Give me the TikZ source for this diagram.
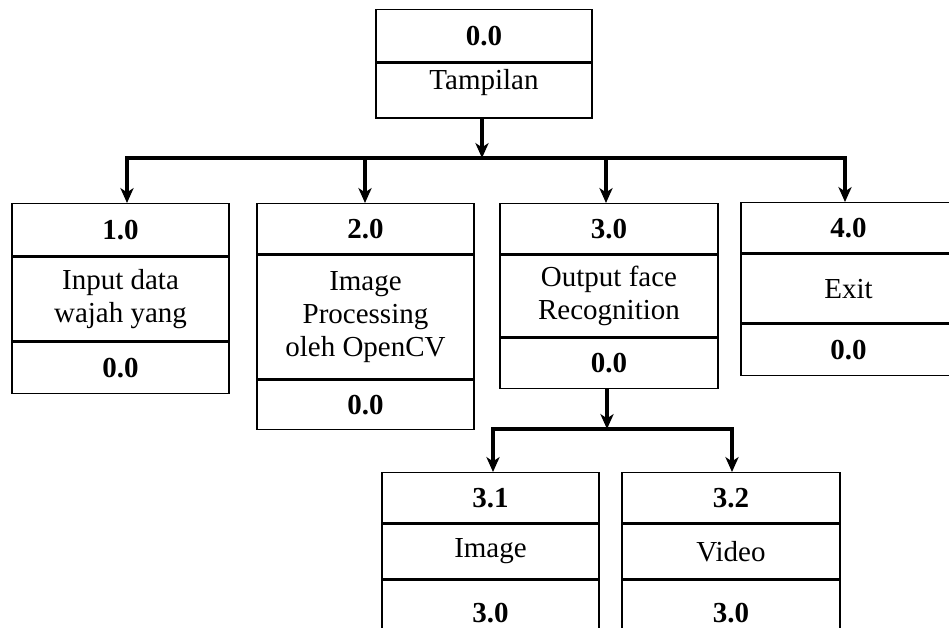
\documentclass[tikz,border=0pt]{standalone}
\usepackage{fontspec}
\setmainfont{Liberation Serif}
\usetikzlibrary{arrows.meta,positioning,calc}

\begin{document}
\begin{tikzpicture}[
  x=0.02cm, y=-0.02cm,
  cell/.style={draw, line width=0.8pt, anchor=north, inner sep=0pt,
    align=center, font=\fontsize{16.5}{19}\selectfont},
  numcell/.style={cell, font=\fontsize{16.5}{19}\selectfont\bfseries},
  arrow/.style={-{Stealth[length=8.5pt, width=7.5pt, inset=2.5pt]}, line width=1.8pt},
  bus/.style={line width=1.8pt, line cap=rect}
]
\clip (0,0) rectangle (949,628);

% Level 0
\node[numcell, minimum width=4.32cm, minimum height=1.04cm] (p0n) at (484,9) {0.0};
\node[cell, minimum width=4.32cm, minimum height=1.10cm, text depth=13pt] (p0t) at (p0n.south) {Tampilan};

% Level 1
\node[numcell, minimum width=4.34cm, minimum height=1.04cm] (p1n) at (120.5,203) {1.0};
\node[cell, minimum width=4.34cm, minimum height=1.68cm] (p1t) at (p1n.south) {Input data\\wajah yang};
\node[numcell, minimum width=4.34cm, minimum height=1.02cm] (p1f) at (p1t.south) {0.0};

\node[numcell, minimum width=4.34cm, minimum height=1.00cm] (p2n) at (365.5,203) {2.0};
\node[cell, minimum width=4.34cm, minimum height=2.48cm] (p2t) at (p2n.south) {Image\\Processing\\oleh OpenCV};
\node[numcell, minimum width=4.34cm, minimum height=0.98cm] (p2f) at (p2t.south) {0.0};

\node[numcell, minimum width=4.36cm, minimum height=1.00cm] (p3n) at (609,203) {3.0};
\node[cell, minimum width=4.36cm, minimum height=1.64cm] (p3t) at (p3n.south) {Output face\\Recognition};
\node[numcell, minimum width=4.36cm, minimum height=1.00cm] (p3f) at (p3t.south) {0.0};

\node[numcell, minimum width=4.30cm, minimum height=1.00cm] (p4n) at (848.5,202) {4.0};
\node[cell, minimum width=4.30cm, minimum height=1.38cm] (p4t) at (p4n.south) {Exit};
\node[numcell, minimum width=4.30cm, minimum height=1.02cm] (p4f) at (p4t.south) {0.0};

% Level 2
\node[numcell, minimum width=4.34cm, minimum height=1.00cm] (p31n) at (490.5,472) {3.1};
\node[cell, minimum width=4.34cm, minimum height=1.10cm] (p31t) at (p31n.south) {Image};
\node[numcell, minimum width=4.34cm, minimum height=1.30cm] (p31f) at (p31t.south) {3.0};

\node[numcell, minimum width=4.36cm, minimum height=1.00cm] (p32n) at (731,472) {3.2};
\node[cell, minimum width=4.36cm, minimum height=1.10cm] (p32t) at (p32n.south) {Video};
\node[numcell, minimum width=4.36cm, minimum height=1.30cm] (p32f) at (p32t.south) {3.0};

% connectors level 0 -> 1
\coordinate (b0) at (482,158);
\coordinate (d1) at (127,158);
\coordinate (d2) at (365,158);
\coordinate (d3) at (606,158);
\coordinate (d4) at (845,158);
\draw[arrow] (p0t.south -| b0) -- (b0);
\draw[bus] (d1) -- (d4);
\draw[arrow] (d1) -- (d1 |- p1n.north);
\draw[arrow] (d2) -- (d2 |- p2n.north);
\draw[arrow] (d3) -- (d3 |- p3n.north);
\draw[arrow] (d4) -- (d4 |- p4n.north);

% connectors level 1 -> 2
\coordinate (b3) at (607,429);
\coordinate (d31) at (493,429);
\coordinate (d32) at (732,429);
\draw[arrow] (p3f.south -| b3) -- (b3);
\draw[bus] (d31) -- (d32);
\draw[arrow] (d31) -- (d31 |- p31n.north);
\draw[arrow] (d32) -- (d32 |- p32n.north);

\end{tikzpicture}
\end{document}
